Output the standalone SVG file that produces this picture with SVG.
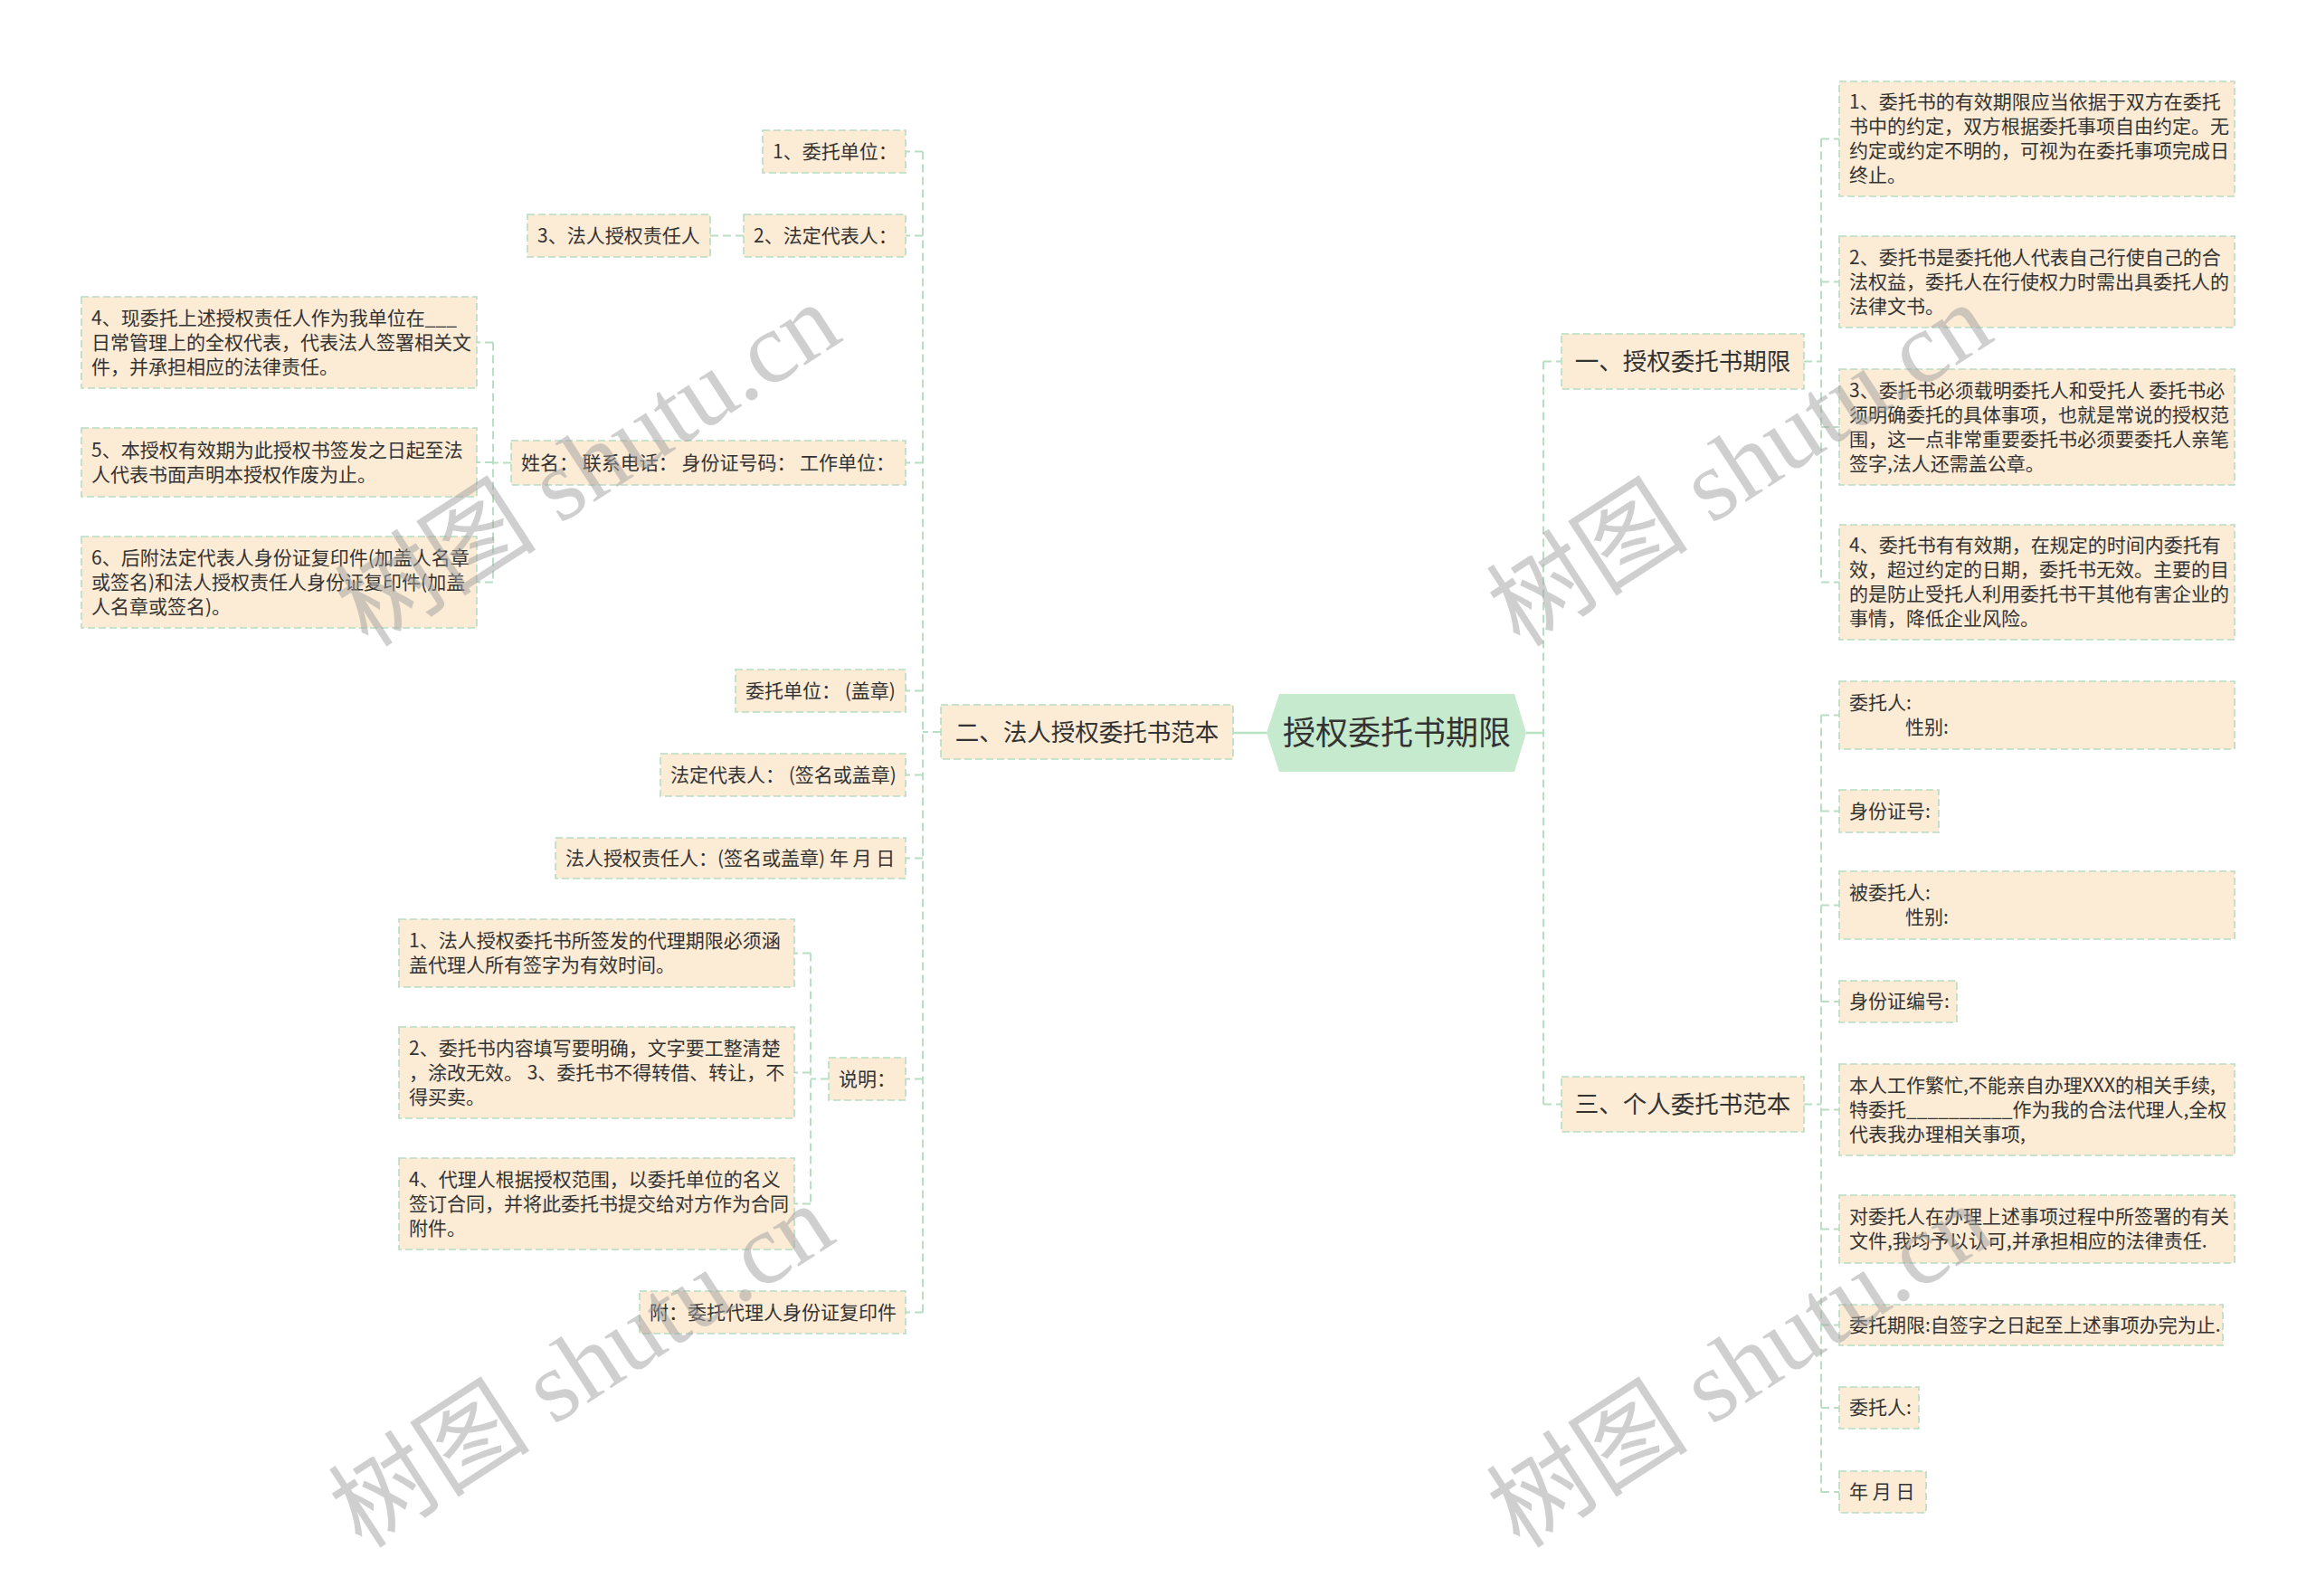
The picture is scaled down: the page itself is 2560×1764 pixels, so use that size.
<svg xmlns="http://www.w3.org/2000/svg" width="2560" height="1764" viewBox="0 0 2560 1764">
<style>
text{font-family:'Noto Sans CJK SC','Liberation Sans',sans-serif;fill:#333333}
.n rect{fill:#fcebd5;stroke:#b7dcc3;stroke-width:1.6;stroke-dasharray:8 4}
.t{font-size:21px}
.b{font-size:26.5px}
.c{fill:none;stroke:#b8dfc4;stroke-width:2;stroke-dasharray:9 5}
.s{fill:none;stroke:#b8e3c3;stroke-width:2.5}
.wm{font-family:'Liberation Serif','Noto Sans CJK SC',serif;font-size:112px;fill:#a0a0a0;fill-opacity:0.5}
</style>
<rect width="2560" height="1764" fill="#ffffff"/>
<g id="connectors">
<path class="s" d="M1400,810H1363"/>
<path class="s" d="M1687,810H1706"/>
<path class="c" d="M1706,399.5V1220.5M1706,399.5H1726M1706,1220.5H1726"/>
<path class="c" d="M1994,399.5H2013M2013,153.5V643.5M2013,153.5H2033M2013,311.5H2033M2013,472H2033M2013,643.5H2033"/>
<path class="c" d="M1994,1220.5H2013M2013,790.5V1649M2013,790.5H2033M2013,896.5H2033M2013,1000.5H2033M2013,1107H2033M2013,1226.5H2033M2013,1358.5H2033M2013,1464.5H2033M2013,1556H2033M2013,1649H2033"/>
<path class="c" d="M1040,809H1020M1020,167.5V1450.5M1020,167.5H1001M1020,260.5H1001M1020,511.5H1001M1020,763.5H1001M1020,856.5H1001M1020,948.5H1001M1020,1192.5H1001M1020,1450.5H1001"/>
<path class="c" d="M822,260.5H785"/>
<path class="c" d="M565,511.5H545M545,378.5V643.5M545,378.5H527M545,511H527M545,643.5H527"/>
<path class="c" d="M916,1192.5H896M896,1053.5V1330.5M896,1053.5H878M896,1185.5H878M896,1330.5H878"/>
</g>
<g id="root">
<polygon points="1400,810 1414,767 1674,767 1687,810 1674,853 1414,853" fill="#c6eacd"/>
<text x="1544" y="823" font-size="36" text-anchor="middle">授权委托书期限</text>
</g>
<g id="b1" class="n"><rect x="1726" y="369" width="268" height="61"/><text class="b" x="1860" y="409" text-anchor="middle">一、授权委托书期限</text></g>
<g id="b2" class="n"><rect x="1040" y="779" width="323" height="60"/><text class="b" x="1201.5" y="818.5" text-anchor="middle">二、法人授权委托书范本</text></g>
<g id="b3" class="n"><rect x="1726" y="1190" width="268" height="61"/><text class="b" x="1860" y="1230" text-anchor="middle">三、个人委托书范本</text></g>

<g id="r1" class="n"><rect x="2033" y="90" width="437" height="127"/><text class="t"><tspan x="2044" y="120">1、委托书的有效期限应当依据于双方在委托</tspan><tspan x="2044" y="147">书中的约定，双方根据委托事项自由约定。无</tspan><tspan x="2044" y="174">约定或约定不明的，可视为在委托事项完成日</tspan><tspan x="2044" y="201">终止。</tspan></text></g>
<g id="r2" class="n"><rect x="2033" y="261" width="437" height="101"/><text class="t"><tspan x="2044" y="291.5">2、委托书是委托他人代表自己行使自己的合</tspan><tspan x="2044" y="318.5">法权益，委托人在行使权力时需出具委托人的</tspan><tspan x="2044" y="345.5">法律文书。</tspan></text></g>
<g id="r3" class="n"><rect x="2033" y="408" width="437" height="128"/><text class="t"><tspan x="2044" y="438.5">3、委托书必须载明委托人和受托人 委托书必</tspan><tspan x="2044" y="465.5">须明确委托的具体事项，也就是常说的授权范</tspan><tspan x="2044" y="492.5">围，这一点非常重要委托书必须要委托人亲笔</tspan><tspan x="2044" y="519.5">签字,法人还需盖公章。</tspan></text></g>
<g id="r4" class="n"><rect x="2033" y="580" width="437" height="127"/><text class="t"><tspan x="2044" y="610">4、委托书有有效期，在规定的时间内委托有</tspan><tspan x="2044" y="637">效，超过约定的日期，委托书无效。主要的目</tspan><tspan x="2044" y="664">的是防止受托人利用委托书干其他有害企业的</tspan><tspan x="2044" y="691">事情，降低企业风险。</tspan></text></g>

<g id="p1" class="n"><rect x="2033" y="753" width="437" height="75"/><text class="t"><tspan x="2044" y="784">委托人:</tspan><tspan x="2106" y="811">性别:</tspan></text></g>
<g id="p2" class="n"><rect x="2033" y="873" width="110" height="47"/><text class="t" x="2044" y="903.5">身份证号:</text></g>
<g id="p3" class="n"><rect x="2033" y="963" width="437" height="75"/><text class="t"><tspan x="2044" y="994">被委托人:</tspan><tspan x="2106" y="1021">性别:</tspan></text></g>
<g id="p4" class="n"><rect x="2033" y="1084" width="130" height="46"/><text class="t" x="2044" y="1114">身份证编号:</text></g>
<g id="p5" class="n"><rect x="2033" y="1176" width="437" height="101"/><text class="t"><tspan x="2044" y="1206.5">本人工作繁忙,不能亲自办理XXX的相关手续,</tspan><tspan x="2044" y="1233.5">特委托__________作为我的合法代理人,全权</tspan><tspan x="2044" y="1260.5">代表我办理相关事项,</tspan></text></g>
<g id="p6" class="n"><rect x="2033" y="1321" width="437" height="75"/><text class="t"><tspan x="2044" y="1352">对委托人在办理上述事项过程中所签署的有关</tspan><tspan x="2044" y="1379">文件,我均予以认可,并承担相应的法律责任.</tspan></text></g>
<g id="p7" class="n"><rect x="2033" y="1442" width="424" height="45"/><text class="t" x="2044" y="1471.5">委托期限:自签字之日起至上述事项办完为止.</text></g>
<g id="p8" class="n"><rect x="2033" y="1533" width="88" height="46"/><text class="t" x="2044" y="1563">委托人:</text></g>
<g id="p9" class="n"><rect x="2033" y="1626" width="96" height="46"/><text class="t" x="2044" y="1656">年 月 日</text></g>

<g id="l1" class="n"><rect x="843" y="144" width="158" height="47"/><text class="t" x="854" y="174.5">1、委托单位：</text></g>
<g id="l2" class="n"><rect x="822" y="237" width="179" height="47"/><text class="t" x="833" y="267.5">2、法定代表人：</text></g>
<g id="l2a" class="n"><rect x="583" y="237" width="202" height="47"/><text class="t" x="594" y="267.5">3、法人授权责任人</text></g>
<g id="l3" class="n"><rect x="565" y="487" width="436" height="49"/><text class="t" x="576" y="518.5">姓名： 联系电话： 身份证号码： 工作单位：</text></g>
<g id="l3a" class="n"><rect x="90" y="328" width="437" height="101"/><text class="t"><tspan x="101" y="358.5">4、现委托上述授权责任人作为我单位在___</tspan><tspan x="101" y="385.5">日常管理上的全权代表，代表法人签署相关文</tspan><tspan x="101" y="412.5">件，并承担相应的法律责任。</tspan></text></g>
<g id="l3b" class="n"><rect x="90" y="473" width="437" height="76"/><text class="t"><tspan x="101" y="504.5">5、本授权有效期为此授权书签发之日起至法</tspan><tspan x="101" y="531.5">人代表书面声明本授权作废为止。</tspan></text></g>
<g id="l3c" class="n"><rect x="90" y="593" width="437" height="101"/><text class="t"><tspan x="101" y="623.5">6、后附法定代表人身份证复印件(加盖人名章</tspan><tspan x="101" y="650.5">或签名)和法人授权责任人身份证复印件(加盖</tspan><tspan x="101" y="677.5">人名章或签名)。</tspan></text></g>
<g id="l4" class="n"><rect x="813" y="740" width="188" height="47"/><text class="t" x="824" y="770.5">委托单位： (盖章)</text></g>
<g id="l5" class="n"><rect x="730" y="833" width="271" height="47"/><text class="t" x="741" y="863.5">法定代表人： (签名或盖章)</text></g>
<g id="l6" class="n"><rect x="614" y="926" width="387" height="45"/><text class="t" x="625" y="955.5">法人授权责任人：(签名或盖章) 年 月 日</text></g>
<g id="l7" class="n"><rect x="916" y="1169" width="85" height="47"/><text class="t" x="927" y="1199.5">说明：</text></g>
<g id="l7a" class="n"><rect x="441" y="1016" width="437" height="75"/><text class="t"><tspan x="452" y="1047">1、法人授权委托书所签发的代理期限必须涵</tspan><tspan x="452" y="1074">盖代理人所有签字为有效时间。</tspan></text></g>
<g id="l7b" class="n"><rect x="441" y="1135" width="437" height="101"/><text class="t"><tspan x="452" y="1165.5">2、委托书内容填写要明确，文字要工整清楚</tspan><tspan x="452" y="1192.5">，涂改无效。 3、委托书不得转借、转让，不</tspan><tspan x="452" y="1219.5">得买卖。</tspan></text></g>
<g id="l7c" class="n"><rect x="441" y="1280" width="437" height="101"/><text class="t"><tspan x="452" y="1310.5">4、代理人根据授权范围，以委托单位的名义</tspan><tspan x="452" y="1337.5">签订合同，并将此委托书提交给对方作为合同</tspan><tspan x="452" y="1364.5">附件。</tspan></text></g>
<g id="l8" class="n"><rect x="707" y="1427" width="294" height="47"/><text class="t" x="718" y="1457.5">附：委托代理人身份证复印件</text></g>

<g id="watermark">
<text class="wm" transform="translate(650,514) rotate(-33)" text-anchor="middle" dominant-baseline="central">树图 shutu.cn</text>
<text class="wm" transform="translate(1923,514) rotate(-33)" text-anchor="middle" dominant-baseline="central">树图 shutu.cn</text>
<text class="wm" transform="translate(643,1510) rotate(-33)" text-anchor="middle" dominant-baseline="central">树图 shutu.cn</text>
<text class="wm" transform="translate(1923,1510) rotate(-33)" text-anchor="middle" dominant-baseline="central">树图 shutu.cn</text>
</g>
</svg>
